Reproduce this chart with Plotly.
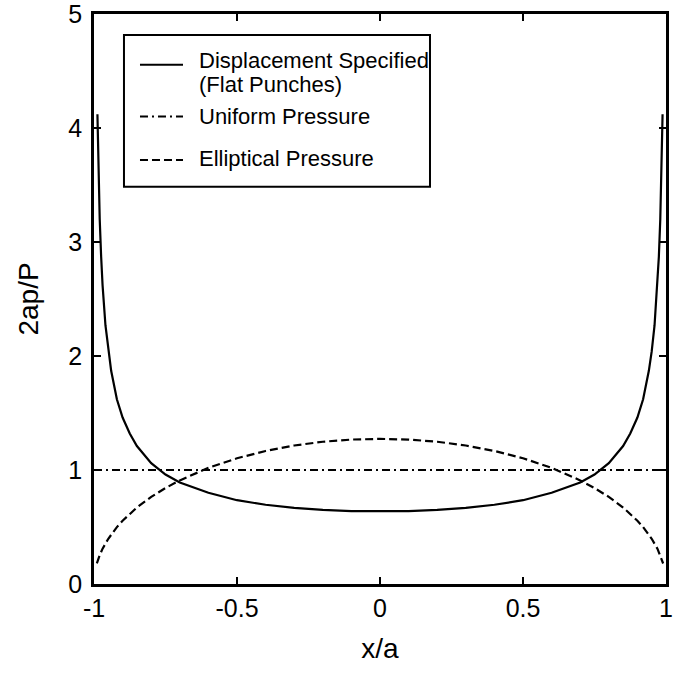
import plotly.graph_objects as go

# Flat punch (displacement specified) pressure
x_flat = [-0.988, -0.985, -0.98, -0.975, -0.97, -0.96, -0.95, -0.94, -0.92, -0.9,
          -0.875, -0.85, -0.8, -0.75, -0.7, -0.6, -0.5, -0.4, -0.3, -0.2, -0.1, 0.0,
          0.1, 0.2, 0.3, 0.4, 0.5, 0.6, 0.7, 0.75, 0.8, 0.85, 0.875, 0.9, 0.92, 0.94,
          0.95, 0.96, 0.97, 0.975, 0.98, 0.985, 0.988]
y_flat = [4.12, 3.69, 3.20, 2.87, 2.62, 2.27, 2.04, 1.87, 1.62, 1.46,
          1.32, 1.21, 1.06, 0.96, 0.89, 0.80, 0.735, 0.695, 0.667, 0.650, 0.640, 0.637,
          0.640, 0.650, 0.667, 0.695, 0.735, 0.80, 0.89, 0.96, 1.06, 1.21, 1.32, 1.46, 1.62, 1.87,
          2.04, 2.27, 2.62, 2.87, 3.20, 3.69, 4.12]

# Uniform pressure
x_unif = [-1.0, 1.0]
y_unif = [1.0, 1.0]

# Elliptical pressure
x_ell = [-0.99, -0.985, -0.98, -0.97, -0.95, -0.92, -0.9, -0.85, -0.8, -0.75, -0.7,
         -0.6, -0.5, -0.4, -0.3, -0.2, -0.1, 0.0, 0.1, 0.2, 0.3, 0.4, 0.5, 0.6,
         0.7, 0.75, 0.8, 0.85, 0.9, 0.92, 0.95, 0.97, 0.98, 0.985, 0.99]
y_ell = [0.18, 0.22, 0.253, 0.31, 0.397, 0.499, 0.555, 0.671, 0.764, 0.842, 0.909,
         1.019, 1.103, 1.167, 1.215, 1.248, 1.267, 1.273, 1.267, 1.248, 1.215, 1.167, 1.103, 1.019,
         0.909, 0.842, 0.764, 0.671, 0.555, 0.499, 0.397, 0.31, 0.253, 0.22, 0.18]

x_ticks = [-1, -0.5, 0, 0.5, 1]
x_ticklabels = ["-1", "-0.5", "0", "0.5", "1"]
y_ticks = [0, 1, 2, 3, 4, 5]

legend_labels = ["Displacement Specified", "(Flat Punches)", "Uniform Pressure", "Elliptical Pressure"]

font_family = "Liberation Sans, Arial, sans-serif"
DASHDOT = "8px,4px,2px,4px"
DASH = "8px,4px"

fig = go.Figure()
fig.add_trace(go.Scatter(x=x_flat, y=y_flat, mode="lines", showlegend=False,
                         name="Displacement Specified (Flat Punches)",
                         line=dict(color="black", width=2.2, dash="solid")))
fig.add_trace(go.Scatter(x=x_unif, y=y_unif, mode="lines", showlegend=False,
                         name="Uniform Pressure",
                         line=dict(color="black", width=2.2, dash=DASHDOT)))
fig.add_trace(go.Scatter(x=x_ell, y=y_ell, mode="lines", showlegend=False,
                         name="Elliptical Pressure",
                         line=dict(color="black", width=2.2, dash=DASH)))

axis_common = dict(showline=True, linecolor="black", linewidth=2.5, mirror="ticks",
                   ticks="inside", ticklen=7, tickwidth=1.5, tickcolor="black",
                   showgrid=False, zeroline=False, automargin=False,
                   ticklabeloverflow="allow",
                   tickfont=dict(family=font_family, size=25, color="black"))

fig.update_xaxes(range=[-1, 1], tickvals=x_ticks, ticktext=x_ticklabels,
                 title=dict(text="x/a", font=dict(family=font_family, size=28, color="black"),
                            standoff=18),
                 **axis_common)
fig.update_yaxes(range=[0, 5], tickvals=y_ticks, ticklabelstandoff=4,
                 title=dict(text="2ap/P", font=dict(family=font_family, size=28, color="black"),
                            standoff=22),
                 **axis_common)

# Legend box drawn in paper coordinates
fig.add_shape(type="rect", xref="paper", yref="paper", x0=0.0524, x1=0.5874, y0=0.697, y1=0.963,
              line=dict(color="black", width=2), fillcolor="white", layer="above")
sample_x0, sample_x1 = 0.0804, 0.1556
for y, dash in [(0.911, "solid"), (0.820, DASHDOT), (0.744, DASH)]:
    fig.add_shape(type="line", xref="paper", yref="paper", x0=sample_x0, x1=sample_x1, y0=y, y1=y,
                  line=dict(color="black", width=2, dash=dash), layer="above")
for text, y in zip(legend_labels, [0.918, 0.877, 0.821, 0.746]):
    fig.add_annotation(text=text, xref="paper", yref="paper", x=0.180, y=y,
                       xanchor="left", yanchor="middle", showarrow=False,
                       font=dict(family=font_family, size=22, color="black"))

fig.update_layout(
    width=675, height=685,
    margin=dict(l=94, r=9, t=14, b=101),
    plot_bgcolor="white", paper_bgcolor="white",
    showlegend=False,
)

fig.write_html("out.html", config={"displayModeBar": False},
               post_script="document.body.style.margin='0';")
